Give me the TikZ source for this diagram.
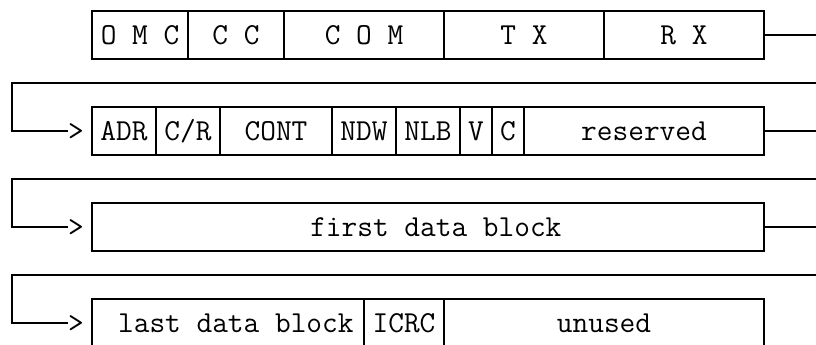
\documentclass[tikz,border=0pt]{standalone}
\usepackage{fontspec}
\usetikzlibrary{positioning}
\tikzset{
    field-box/.style = {draw, line width=1.5pt, rectangle, minimum height=48pt, inner sep=0pt, outer sep=0pt,
        text height=18.6pt, text depth=0pt, font=\ttfamily\fontsize{30.48pt}{24pt}\selectfont},
    tip-char/.style = {inner sep=0pt, outer sep=0pt, text height=18.6pt, text depth=0pt,
        font=\ttfamily\fontsize{30.48pt}{24pt}\selectfont},
    wire/.style = {line width=1.5pt},
}

\begin{document}
\begin{tikzpicture}[x=16pt, y=-24pt]
\useasboundingbox (-0.75,-0.4583) rectangle (50.25,13.9167);
% first word
\node[field-box, minimum width=96pt, anchor=west] (omc) at (5,1) {O M C};
\node[field-box, minimum width=96pt, right=0pt of omc] (cc) {C C};
\node[field-box, minimum width=160pt, right=0pt of cc] (com) {C O M};
\node[field-box, minimum width=160pt, right=0pt of com] (tx) {T X};
\node[field-box, minimum width=160pt, right=0pt of tx] (rx) {R X};
% second word
\node[field-box, minimum width=64pt, anchor=west] (adr) at (5,5) {ADR};
\node[field-box, minimum width=64pt, right=0pt of adr] (cr) {C/R};
\node[field-box, minimum width=112pt, right=0pt of cr] (cont) {CONT};
\node[field-box, minimum width=64pt, right=0pt of cont] (ndw) {NDW};
\node[field-box, minimum width=64pt, right=0pt of ndw] (nlb) {NLB};
\node[field-box, minimum width=32pt, right=0pt of nlb] (v) {V};
\node[field-box, minimum width=32pt, right=0pt of v] (c) {C};
\node[field-box, minimum width=240pt, right=0pt of c] (reserved) {reserved};
% data blocks
\node[field-box, minimum width=672pt, anchor=west] (first) at (5,9) {\ first data block};
\node[field-box, minimum width=272pt, anchor=west] (last) at (5,13) {\ last data block};
\node[field-box, minimum width=80pt, right=0pt of last] (icrc) {ICRC};
\node[field-box, minimum width=320pt, right=0pt of icrc] (unused) {unused\ };

% arrow heads
\node[tip-char] (tip-b) at (4,5) {>};
\node[tip-char] (tip-c) at (4,9) {>};
\node[tip-char] (tip-d) at (4,13) {>};

% links between the lines
\foreach \n/\r in {rx/1, reserved/5, first/9} {
    \coordinate (out-\n) at (50.25,\r);
    \draw[wire] (\n.east) -- (out-\n);
}
\foreach \r/\t in {3/tip-b, 7/tip-c, 11/tip-d} {
    \coordinate (in-\t) at (50.25,\r);
    \draw[wire] (in-\t) -- (0,\r) |- (\t.west);
}
\end{tikzpicture}
\end{document}
